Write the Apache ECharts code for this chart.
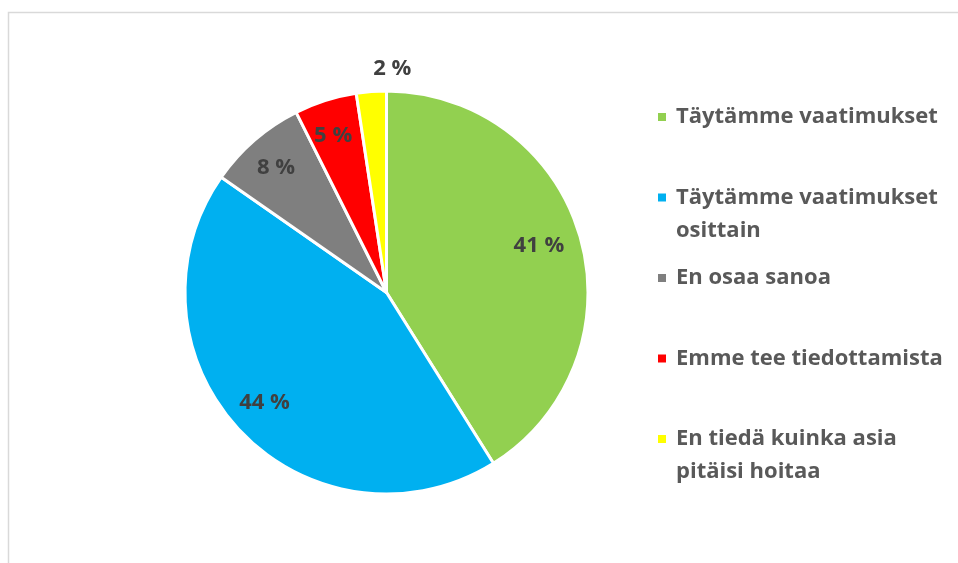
<!DOCTYPE html>
<html>
<head>
<meta charset="utf-8">
<script src="https://cdn.jsdelivr.net/npm/echarts@6/dist/echarts.min.js"></script>
<style>
  html, body { margin: 0; padding: 0; background: #fff; }
  #piechart { width: 958px; height: 563px; }
</style>
</head>
<body>
<div id="piechart"></div>
<script>
var categories = ['Täytämme vaatimukset', 'Täytämme vaatimukset\nosittain', 'En osaa sanoa', 'Emme tee tiedottamista', 'En tiedä kuinka asia\npitäisi hoitaa'];
var values = [41.1, 43.6, 7.9, 5.0, 2.4];
var colors = ['#92D050', '#00B0F0', '#7F7F7F', '#FF0000', '#FFFF00'];

var myChart = echarts.init(document.getElementById('piechart'));
var font = 'Open Sans';

// data for the pie
var pieData = categories.map(function (name, i) {
    return { name: name, value: values[i], itemStyle: { color: colors[i] } };
});

// transparent ring only to place the labels at ~0.8 radius
var labelData = categories.map(function (name, i) {
    var item = { name: name, value: values[i] };
    if (i == 4) {
        item.label = { offset: [18, -61] }; // 2 % sits outside
    }
    return item;
});

// one legend per entry so the first lines are evenly spaced
var legends = categories.map(function (name, i) {
    var lines = name.split('\n').length;
    var y = 112 + i * 80.5;
    return {
        orient: 'vertical',
        left: 651,
        top: lines > 1 ? y - 49.5 : y - 16.5,
        data: [name],
        icon: 'rect',
        itemWidth: 10,
        itemHeight: 10,
        selectedMode: false,
        formatter: function (n) {
            return n.indexOf('\n') >= 0 ? '\u00a0\n' + n : n;
        },
        textStyle: {
            fontFamily: font,
            fontWeight: 'bold',
            fontSize: 22,
            color: '#595959',
            lineHeight: 33,
            padding: [0, 0, 0, 4]
        }
    };
});

var option = {
    animation: false,
    legend: legends,
    graphic: [{
        type: 'rect',
        shape: { x: 8.5, y: 12.5, width: 1200, height: 1000 },
        style: { fill: 'none', stroke: '#D9D9D9', lineWidth: 1.5 },
        silent: true
    }],
    series: [{
        name: 'main',
        type: 'pie',
        center: [386.5, 292.5],
        radius: [0, 201.5],
        startAngle: 90,
        clockwise: true,
        data: pieData,
        label: { show: false },
        labelLine: { show: false },
        itemStyle: { borderColor: '#fff', borderWidth: 3 },
        emphasis: { disabled: true }
    }, {
        name: 'labels',
        type: 'pie',
        center: [386.5, 292.5],
        radius: [118, 201.5],
        startAngle: 90,
        clockwise: true,
        silent: true,
        data: labelData,
        itemStyle: { color: 'rgba(0,0,0,0)' },
        label: {
            show: true,
            position: 'inside',
            offset: [-4, -2],
            fontFamily: font,
            fontWeight: 'bold',
            fontSize: 22,
            color: '#404040',
            formatter: function (p) {
                return Math.round(p.percent) + ' %';
            }
        },
        labelLine: { show: false }
    }]
};
myChart.setOption(option);
</script>
</body>
</html>
